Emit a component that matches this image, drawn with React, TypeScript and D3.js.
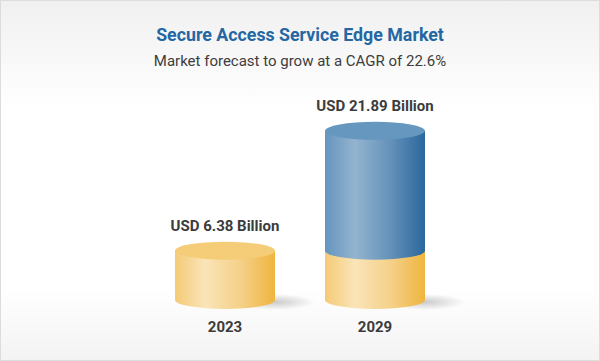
import React from "react";
import { scaleBand, scaleLinear } from "d3";

// chart values
const years = ["2023", "2029"];
const values = [6.38, 21.89];
const valueLabels = ["USD 6.38 Billion", "USD 21.89 Billion"];
const title = "Secure Access Service Edge Market";
const subtitle = "Market forecast to grow at a CAGR of 22.6%";

const width = 600;
const height = 361;
const baseY = 300;
const ry = 9;

export default function App() {
  const x = scaleBand<string>()
    .domain(years)
    .range([150, 450])
    .paddingInner(1 / 3)
    .paddingOuter(1 / 6);
  const y = scaleLinear().domain([0, 22]).range([baseY, 130]);
  const bw = x.bandwidth();
  const rx = bw / 2;
  const baseValue = values[0];

  // side of a cylinder between two y positions, bottom curved toward viewer
  const side = (x0: number, yTop: number, yBot: number) =>
    `M${x0},${yTop} L${x0},${yBot} A${rx},${ry} 0 0 0 ${x0 + bw},${yBot} L${x0 + bw},${yTop} Z`;

  return (
    <svg
      width={width}
      height={height}
      style={{ position: "absolute", left: 0, top: 0, fontFamily: "Roboto, sans-serif" }}
    >
      <defs>
        <linearGradient id="bg" x1="0" y1="0" x2="0" y2="1">
          <stop offset="0" stopColor="#f0f0f0" />
          <stop offset="0.3" stopColor="#ffffff" />
          <stop offset="0.8" stopColor="#ffffff" />
          <stop offset="1" stopColor="#f3f3f3" />
        </linearGradient>
        <linearGradient id="yellowSide" x1="0" y1="0" x2="1" y2="0">
          <stop offset="0" stopColor="#f4cb76" />
          <stop offset="0.3" stopColor="#fae4b8" />
          <stop offset="0.65" stopColor="#f5d18a" />
          <stop offset="1" stopColor="#efb53e" />
        </linearGradient>
        <linearGradient id="blueSide" x1="0" y1="0" x2="1" y2="0">
          <stop offset="0" stopColor="#6595bd" />
          <stop offset="0.3" stopColor="#93b4cf" />
          <stop offset="0.65" stopColor="#6592ba" />
          <stop offset="1" stopColor="#2a679d" />
        </linearGradient>
        <radialGradient id="shadow">
          <stop offset="0" stopColor="#000" stopOpacity="0.2" />
          <stop offset="1" stopColor="#000" stopOpacity="0" />
        </radialGradient>
      </defs>

      <rect x={0.5} y={0.5} width={width - 1} height={height - 1} fill="url(#bg)" stroke="#dcdcdc" />

      <text x={300} y={41} textAnchor="middle" fontSize={17.8} fontWeight="bold" fill="#2467a3">
        {title}
      </text>
      <text x={300} y={66} textAnchor="middle" fontSize={15} fill="#3d3d3d">
        {subtitle}
      </text>

      {years.map((yr, i) => {
        const x0 = x(yr) as number;
        const cx = x0 + rx;
        const topY = y(values[i]);
        const yellowTop = y(Math.min(values[i], baseValue));
        const stacked = values[i] > baseValue;
        return (
          <g key={yr}>
            <ellipse cx={x0 + bw} cy={baseY + 2} rx={40} ry={8} fill="url(#shadow)" />
            <path d={side(x0, yellowTop, baseY)} fill="url(#yellowSide)" />
            {stacked ? (
              <>
                <path d={side(x0, topY, yellowTop)} fill="url(#blueSide)" />
                <ellipse cx={cx} cy={topY} rx={rx} ry={ry} fill="#6597bf" />
              </>
            ) : (
              <ellipse cx={cx} cy={topY} rx={rx} ry={ry} fill="#f5cc77" />
            )}
            <text
              x={cx}
              y={topY - 20}
              textAnchor="middle"
              fontSize={15}
              fontWeight="bold"
              fill="#3b3b3b"
            >
              {valueLabels[i]}
            </text>
            <text x={cx} y={332} textAnchor="middle" fontSize={15} fontWeight="bold" fill="#3b3b3b">
              {yr}
            </text>
          </g>
        );
      })}
    </svg>
  );
}
